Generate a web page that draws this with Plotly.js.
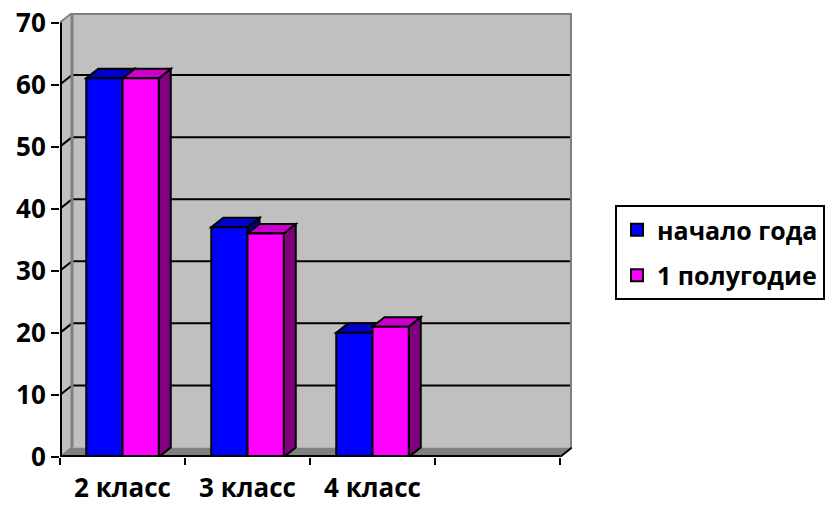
<!DOCTYPE html>
<html>
<head>
<meta charset="utf-8">
<script src="https://cdn.plot.ly/plotly-3.0.1.min.js"></script>
<style>html,body{margin:0;padding:0;background:#fff;}#chart{width:831px;height:505px;}</style>
</head>
<body>
<div id="chart"></div>
<script>
// ---- data ----
const categories = ['2 класс', '3 класс', '4 класс'];
const seriesNames = ['начало года', '1 полугодие'];
const startOfYear = [61, 37, 20];   // начало года
const firstHalf = [61, 36, 21];     // 1 полугодие
const yTicks = [0, 10, 20, 30, 40, 50, 60, 70];

// ---- style / pseudo-3D constants ----
const FRONT = ['#0000FF', '#FF00FF'];
const TOP = ['#0000CC', '#CC00CC'];
const SIDE = ['#000080', '#800080'];
const WALL = '#C0C0C0', EDGE = '#808080';
const BARGAP = 0.42;
const XMIN = -0.5, XMAX = categories.length + 0.5; // one empty slot at the end
const DX = 0.096, DY = 1.53;                        // depth offset in axis units
const YMAX = yTicks[yTicks.length - 1];
const FONT = 'Open Sans, Noto Sans, DejaVu Sans, sans-serif';

const xs = categories.map((c, i) => i);
const series = [startOfYear, firstHalf];

function poly(pts) {
  return 'M' + pts.map(p => p[0] + ',' + p[1]).join('L') + 'Z';
}
function line(x0, y0, x1, y1, color, width, layer) {
  return {type: 'line', xref: 'x', yref: 'y', x0: x0, y0: y0, x1: x1, y1: y1,
          line: {color: color, width: width}, layer: layer || 'below'};
}
function face(pts, fill, layer) {
  return {type: 'path', xref: 'x', yref: 'y', path: poly(pts), fillcolor: fill,
          line: {color: '#000', width: 2}, layer: layer || 'below'};
}

const shapes = [];
// back wall, left wall, floor
shapes.push({type: 'path', xref: 'x', yref: 'y', layer: 'below', fillcolor: WALL, line: {width: 0},
  path: poly([[XMIN + DX, DY], [XMAX + DX, DY], [XMAX + DX, YMAX + DY], [XMIN + DX, YMAX + DY]])});
shapes.push({type: 'path', xref: 'x', yref: 'y', layer: 'below', fillcolor: WALL, line: {width: 0},
  path: poly([[XMIN, 0], [XMIN + DX, DY], [XMIN + DX, YMAX + DY], [XMIN, YMAX]])});
shapes.push({type: 'path', xref: 'x', yref: 'y', layer: 'below', fillcolor: EDGE, line: {width: 0},
  path: poly([[XMIN, 0], [XMAX, 0], [XMAX + DX, DY], [XMIN + DX, DY]])});
// gridlines on back wall + left wall
yTicks.forEach(t => {
  if (t > 0 && t < YMAX) {
    shapes.push(line(XMIN + DX, t + DY, XMAX + DX, t + DY, '#000', 2));
    shapes.push(line(XMIN, t, XMIN + DX, t + DY, '#000', 2));
  }
});
// wall edges
shapes.push(line(XMIN + DX, DY, XMIN + DX, YMAX + DY, EDGE, 3));
shapes.push(line(XMIN + DX, YMAX + DY, XMAX + DX, YMAX + DY, EDGE, 4));
shapes.push(line(XMAX + DX, DY, XMAX + DX, YMAX + DY, EDGE, 4));
shapes.push(line(XMIN, YMAX, XMIN + DX, YMAX + DY, EDGE, 2));
shapes.push(line(XMIN, 0, XMIN + DX, DY, EDGE, 2));
shapes.push(line(XMAX, 0, XMAX + DX, DY, '#000', 2));

// bar tops and sides
const w = (1 - BARGAP) / series.length;
series.forEach((vals, s) => {
  vals.forEach((v, i) => {
    const x0 = xs[i] - (1 - BARGAP) / 2 + s * w;
    const x1 = x0 + w;
    shapes.push(face([[x1, 0], [x1 + DX, DY], [x1 + DX, v + DY], [x1, v]], SIDE[s]));
    shapes.push(face([[x0, v], [x1, v], [x1 + DX, v + DY], [x0 + DX, v + DY]], TOP[s]));
  });
});

// front axis lines (slightly inset so they are not clipped)
const insetX = 0.008, insetY = 0.16;
shapes.push(line(XMIN + insetX, 0, XMIN + insetX, YMAX, '#000', 2, 'above'));
shapes.push(line(XMIN, insetY, XMAX, insetY, '#000', 2, 'above'));

const traces = series.map((vals, s) => ({
  type: 'bar', name: seriesNames[s], x: xs, y: vals, legendgroup: 'g' + s,
  marker: {color: FRONT[s], line: {color: '#000', width: 2}},
  hoverinfo: 'none'
}));

const layout = {
  width: 831, height: 505,
  margin: {l: 60, r: 259, t: 13, b: 48},
  paper_bgcolor: '#fff', plot_bgcolor: '#fff',
  barmode: 'group', bargap: BARGAP, bargroupgap: 0,
  showlegend: true,
  legend: {xref: 'container', yref: 'container', x: 615 / 831, y: 1 - 205 / 505,
           xanchor: 'left', yanchor: 'top', bordercolor: '#000', borderwidth: 2,
           bgcolor: '#fff', tracegroupgap: 10,
           font: {family: FONT, size: 25, color: '#000', weight: 'bold'}},
  xaxis: {range: [XMIN, XMAX + DX], tickvals: xs, ticktext: categories,
          ticks: 'outside', ticklen: 8, tickcolor: 'rgba(0,0,0,0)',
          minor: {tick0: XMIN, dtick: 1, ticks: 'outside', ticklen: 7, tickwidth: 2, tickcolor: '#000', showgrid: false},
          showgrid: false, zeroline: false, showline: false, fixedrange: true,
          tickfont: {family: FONT, size: 26, color: '#000', weight: 'bold'}},
  yaxis: {range: [0, YMAX + DY], tickvals: yTicks, ticks: 'outside', ticklen: 8,
          tickwidth: 2, tickcolor: '#000', showgrid: false, zeroline: false, showline: false,
          fixedrange: true,
          tickfont: {family: FONT, size: 26, color: '#000', weight: 'bold'}},
  shapes: shapes
};

Plotly.newPlot('chart', traces, layout, {staticPlot: true, displayModeBar: false});
</script>
</body>
</html>
